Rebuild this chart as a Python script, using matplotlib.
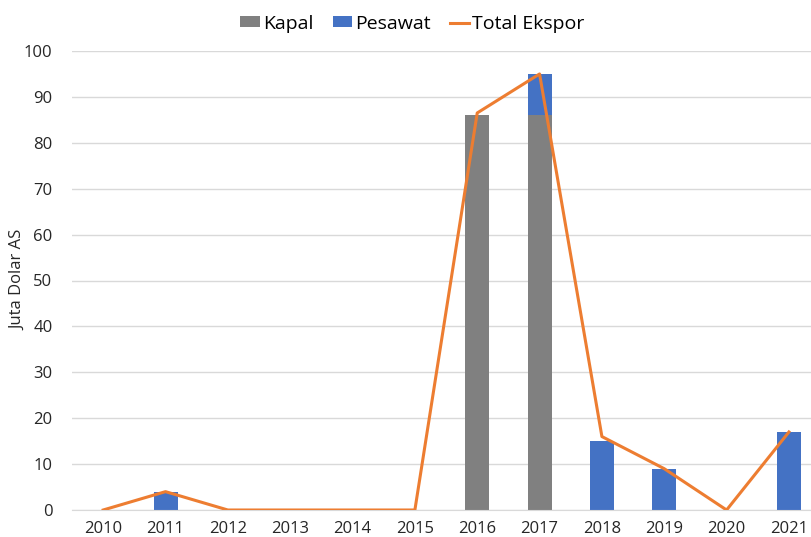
import matplotlib
matplotlib.use("Agg")
import matplotlib.pyplot as plt
import numpy as np

years = ["2010", "2011", "2012", "2013", "2014", "2015", "2016", "2017", "2018", "2019", "2020", "2021"]
kapal = [0, 0, 0, 0, 0, 0, 86, 86, 0, 0, 0, 0]
pesawat = [0, 4, 0, 0, 0, 0, 0, 9, 15, 9, 0, 17]
total = [0, 4, 0, 0, 0, 0, 86.5, 95, 16, 9, 0, 17]

plt.rcParams["font.family"] = ["Open Sans", "DejaVu Sans"]

W, H = 812, 537
fig = plt.figure(figsize=(W / 100, H / 100), dpi=100)
ax = fig.add_axes([72 / W, 1 - 510 / H, 1 - 72 / W, (510 - 51) / H])

x = np.arange(len(years))
bw = 0.385
h_kapal = ax.bar(x, kapal, bw, color="#808080", label="Kapal", zorder=2)
h_pes = ax.bar(x, pesawat, bw, bottom=kapal, color="#4472c4", label="Pesawat", zorder=2)
h_tot, = ax.plot(x, total, color="#ed7d31", lw=2.2, label="Total Ekspor", zorder=3)

ax.set_xlim(-0.5, 11.37)
ax.set_ylim(0, 100)
ax.set_yticks(range(0, 101, 10))
ax.set_xticks(x)
ax.set_xticklabels(years)
ax.grid(axis="y", color="#d9d9d9", lw=1, zorder=0)
ax.set_axisbelow(True)
for s in ["top", "right", "left"]:
    ax.spines[s].set_visible(False)
ax.spines["bottom"].set_color("#d9d9d9")
ax.tick_params(axis="both", length=0, labelsize=12, colors="#262626", pad=8)
ax.tick_params(axis="y", pad=14)

# y-axis title placed in figure coordinates
fig.text(18 / W, 1 - 280 / H, "Juta Dolar AS", rotation=90, fontsize=12,
         color="#262626", ha="center", va="center")

fig.legend([h_kapal, h_pes, h_tot], ["Kapal", "Pesawat", "Total Ekspor"],
           loc="upper center", bbox_to_anchor=(0.508, 1.005), ncol=3, frameon=False,
           fontsize=14, handlelength=1.0, handleheight=0.5, handletextpad=0.15,
           columnspacing=1.0)

fig.savefig("out.png", dpi=100)
